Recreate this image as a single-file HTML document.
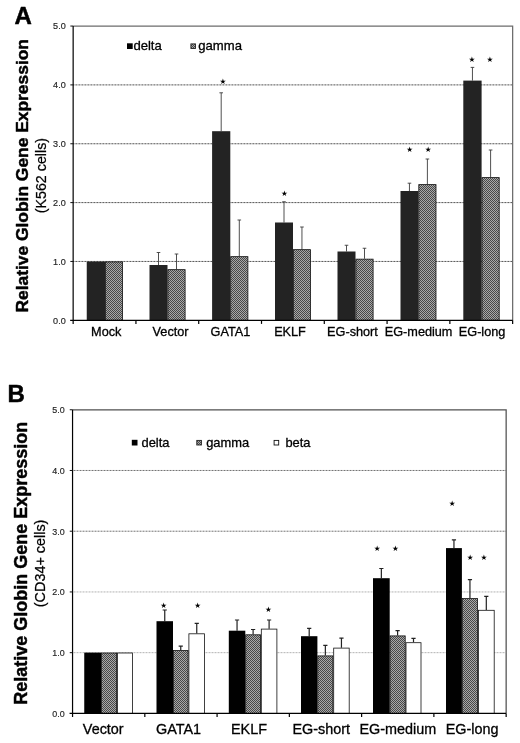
<!DOCTYPE html>
<html lang="en"><head><meta charset="utf-8"><title>Relative Globin Gene Expression</title>
<style>html,body{margin:0;padding:0;background:#fff}body{width:520px;height:743px;overflow:hidden}svg{display:block;will-change:transform;opacity:.999}</style>
</head><body>
<svg width="520" height="743" viewBox="0 0 520 743" font-family="'Liberation Sans', Arial, sans-serif" fill="#000">
<defs><pattern id="hatch" width="2" height="2" patternUnits="userSpaceOnUse"><rect width="2" height="2" fill="#a9a9a9"/><rect x="0" y="0" width="1" height="1" fill="#484848"/><rect x="1" y="1" width="1" height="1" fill="#484848"/></pattern></defs>
<rect width="520" height="743" fill="#fff"/>
<g fill="none" stroke="#6c6c6c" stroke-width="1.25">
<path d="M73.15 26.05 H512.65 V320.3"/>
</g>
<g stroke-width="1" stroke-dasharray="0.9 0.6">
<line x1="73.15" y1="261.45" x2="512.65" y2="261.45" stroke="#383838"/>
<line x1="73.15" y1="202.6" x2="512.65" y2="202.6" stroke="#383838"/>
<line x1="73.15" y1="143.75" x2="512.65" y2="143.75" stroke="#383838"/>
<line x1="73.15" y1="84.9" x2="512.65" y2="84.9" stroke="#383838"/>
</g>
<rect x="86.75" y="261.5" width="18.25" height="58.8" fill="#232323"/>
<rect x="105.4" y="261.9" width="17.2" height="58.4" fill="url(#hatch)" stroke="#111" stroke-width="0.8"/>
<path d="M158.5 265 V252.5 M156.7 252.5 H160.3" stroke="#3c3c3c" stroke-width="0.9" fill="none"/>
<rect x="149.5" y="265" width="18" height="55.3" fill="#232323"/>
<path d="M176.5 269.25 V254 M174.7 254 H178.3" stroke="#3c3c3c" stroke-width="0.9" fill="none"/>
<rect x="167.9" y="269.65" width="17.2" height="50.65" fill="url(#hatch)" stroke="#111" stroke-width="0.8"/>
<path d="M221.2 131.2 V92.8 M219.4 92.8 H223" stroke="#3c3c3c" stroke-width="0.9" fill="none"/>
<rect x="212.1" y="131.2" width="18.2" height="189.1" fill="#232323"/>
<path d="M239.3 256.25 V220 M237.5 220 H241.1" stroke="#3c3c3c" stroke-width="0.9" fill="none"/>
<rect x="230.7" y="256.65" width="17.2" height="63.65" fill="url(#hatch)" stroke="#111" stroke-width="0.8"/>
<path d="M284 222.5 V201.75 M282.2 201.75 H285.8" stroke="#3c3c3c" stroke-width="0.9" fill="none"/>
<rect x="275" y="222.5" width="18" height="97.8" fill="#232323"/>
<path d="M301.95 249.25 V227 M300.15 227 H303.75" stroke="#3c3c3c" stroke-width="0.9" fill="none"/>
<rect x="293.4" y="249.65" width="17.1" height="70.65" fill="url(#hatch)" stroke="#111" stroke-width="0.8"/>
<path d="M346.5 251.5 V245.25 M344.7 245.25 H348.3" stroke="#3c3c3c" stroke-width="0.9" fill="none"/>
<rect x="337.5" y="251.5" width="18" height="68.8" fill="#232323"/>
<path d="M364.5 258.75 V248.25 M362.7 248.25 H366.3" stroke="#3c3c3c" stroke-width="0.9" fill="none"/>
<rect x="355.9" y="259.15" width="17.2" height="61.15" fill="url(#hatch)" stroke="#111" stroke-width="0.8"/>
<path d="M409.45 191 V183.2 M407.65 183.2 H411.25" stroke="#3c3c3c" stroke-width="0.9" fill="none"/>
<rect x="400.5" y="191" width="17.9" height="129.3" fill="#232323"/>
<path d="M427.4 184.2 V159 M425.6 159 H429.2" stroke="#3c3c3c" stroke-width="0.9" fill="none"/>
<rect x="418.8" y="184.6" width="17.2" height="135.7" fill="url(#hatch)" stroke="#111" stroke-width="0.8"/>
<path d="M472.45 80.6 V67.4 M470.65 67.4 H474.25" stroke="#3c3c3c" stroke-width="0.9" fill="none"/>
<rect x="463.3" y="80.6" width="18.3" height="239.7" fill="#232323"/>
<path d="M490.6 177.2 V150 M488.8 150 H492.4" stroke="#3c3c3c" stroke-width="0.9" fill="none"/>
<rect x="482" y="177.6" width="17.2" height="142.7" fill="url(#hatch)" stroke="#111" stroke-width="0.8"/>
<g stroke="#000" stroke-width="1.2" fill="none">
<line x1="73.15" y1="26.05" x2="73.15" y2="323.9"/>
<line x1="70.15" y1="320.3" x2="512.65" y2="320.3"/>
<line x1="135.94" y1="320.3" x2="135.94" y2="323.9"/>
<line x1="198.72" y1="320.3" x2="198.72" y2="323.9"/>
<line x1="261.51" y1="320.3" x2="261.51" y2="323.9"/>
<line x1="324.29" y1="320.3" x2="324.29" y2="323.9"/>
<line x1="387.08" y1="320.3" x2="387.08" y2="323.9"/>
<line x1="449.86" y1="320.3" x2="449.86" y2="323.9"/>
<line x1="512.65" y1="320.3" x2="512.65" y2="323.9"/>
</g>
<g stroke="#111" stroke-width="1" fill="none">
<line x1="70.35" y1="261.45" x2="73.15" y2="261.45"/>
<line x1="70.35" y1="202.6" x2="73.15" y2="202.6"/>
<line x1="70.35" y1="143.75" x2="73.15" y2="143.75"/>
<line x1="70.35" y1="84.9" x2="73.15" y2="84.9"/>
<line x1="70.35" y1="26.05" x2="73.15" y2="26.05"/>
</g>
<g font-size="9.3" text-anchor="end" fill="#262626" stroke="#262626" stroke-width="0.18">
<text x="65.7" y="323.65" textLength="12.6" lengthAdjust="spacingAndGlyphs">0.0</text>
<text x="65.7" y="264.8" textLength="12.6" lengthAdjust="spacingAndGlyphs">1.0</text>
<text x="65.7" y="205.95" textLength="12.6" lengthAdjust="spacingAndGlyphs">2.0</text>
<text x="65.7" y="147.1" textLength="12.6" lengthAdjust="spacingAndGlyphs">3.0</text>
<text x="65.7" y="88.25" textLength="12.6" lengthAdjust="spacingAndGlyphs">4.0</text>
<text x="65.7" y="29.4" textLength="12.6" lengthAdjust="spacingAndGlyphs">5.0</text>
</g>
<g font-size="12.7" text-anchor="middle" stroke="#000" stroke-width="0.3">
<text x="106.25" y="335.5">Mock</text>
<text x="170.6" y="335.5">Vector</text>
<text x="230.4" y="335.5">GATA1</text>
<text x="290" y="335.5">EKLF</text>
<text x="352.5" y="335.5">EG-short</text>
<text x="418.6" y="335.5">EG-medium</text>
<text x="482.1" y="335.5">EG-long</text>
</g>
<g font-family="'DejaVu Sans', 'Liberation Sans', sans-serif" font-size="7.6" text-anchor="middle">
<text x="222.8" y="84.25">★</text>
<text x="284.5" y="195.75">★</text>
<text x="409.7" y="151.65">★</text>
<text x="428.1" y="151.65">★</text>
<text x="471.8" y="62.15">★</text>
<text x="489.9" y="62.15">★</text>
</g>
<g font-size="13.1" stroke-width="0.3">
<rect x="127" y="43.3" width="5.7" height="5.7" fill="#000"/>
<text x="133.4" y="49.6" stroke="#000">delta</text>
<rect x="190.9" y="43.9" width="4.6" height="4.6" fill="url(#hatch)" stroke="#222" stroke-width="0.9"/>
<text x="198.3" y="49.6" stroke="#000">gamma</text>
</g>
<text x="14.5" y="24.2" font-size="24" font-weight="bold" stroke="#000" stroke-width="0.5" stroke-linejoin="round">A</text>
<text transform="translate(28.2 175.8) rotate(-90)" font-size="17.4" font-weight="bold" text-anchor="middle" stroke="#000" stroke-width="0.45" stroke-linejoin="round">Relative Globin Gene Expression</text>
<text transform="translate(45.8 175.6) rotate(-90)" font-size="14.3" text-anchor="middle" stroke="#000" stroke-width="0.25">(K562 cells)</text>
<g fill="none" stroke="#505050" stroke-width="1.25">
<path d="M72.55 409.75 H506.15 V713.4"/>
</g>
<g stroke-width="1" stroke-dasharray="0.9 0.6">
<line x1="72.55" y1="652.67" x2="506.15" y2="652.67" stroke="#a8a8a8"/>
<line x1="72.55" y1="591.94" x2="506.15" y2="591.94" stroke="#a8a8a8"/>
<line x1="72.55" y1="531.21" x2="506.15" y2="531.21" stroke="#606060"/>
<line x1="72.55" y1="470.48" x2="506.15" y2="470.48" stroke="#606060"/>
</g>
<rect x="84.25" y="652.6" width="16.75" height="60.8" fill="#000"/>
<rect x="101.4" y="653" width="15.2" height="60.4" fill="url(#hatch)" stroke="#111" stroke-width="0.8"/>
<rect x="117.4" y="653" width="15.1" height="60.4" fill="#fff" stroke="#111" stroke-width="0.8"/>
<path d="M164.75 621.2 V610 M162.65 610 H166.85" stroke="#222" stroke-width="1.2" fill="none"/>
<rect x="156.5" y="621.2" width="16.5" height="92.2" fill="#000"/>
<path d="M180.75 650 V646.2 M178.65 646.2 H182.85" stroke="#222" stroke-width="1.2" fill="none"/>
<rect x="173.4" y="650.4" width="14.7" height="63" fill="url(#hatch)" stroke="#111" stroke-width="0.8"/>
<path d="M196.75 633.4 V623.4 M194.65 623.4 H198.85" stroke="#222" stroke-width="1.2" fill="none"/>
<rect x="188.9" y="633.8" width="15.7" height="79.6" fill="#fff" stroke="#111" stroke-width="0.8"/>
<path d="M237.05 630.7 V620 M234.95 620 H239.15" stroke="#222" stroke-width="1.2" fill="none"/>
<rect x="228.8" y="630.7" width="16.5" height="82.7" fill="#000"/>
<path d="M253.1 634.4 V629.5 M251 629.5 H255.2" stroke="#222" stroke-width="1.2" fill="none"/>
<rect x="245.7" y="634.8" width="14.8" height="78.6" fill="url(#hatch)" stroke="#111" stroke-width="0.8"/>
<path d="M269.1 628.7 V620 M267 620 H271.2" stroke="#222" stroke-width="1.2" fill="none"/>
<rect x="261.3" y="629.1" width="15.6" height="84.3" fill="#fff" stroke="#111" stroke-width="0.8"/>
<path d="M309.2 636.2 V628.4 M307.1 628.4 H311.3" stroke="#222" stroke-width="1.2" fill="none"/>
<rect x="301" y="636.2" width="16.4" height="77.2" fill="#000"/>
<path d="M325.35 655.5 V645.4 M323.25 645.4 H327.45" stroke="#222" stroke-width="1.2" fill="none"/>
<rect x="317.8" y="655.9" width="15.1" height="57.5" fill="url(#hatch)" stroke="#111" stroke-width="0.8"/>
<path d="M341.45 647.7 V638.2 M339.35 638.2 H343.55" stroke="#222" stroke-width="1.2" fill="none"/>
<rect x="333.7" y="648.1" width="15.5" height="65.3" fill="#fff" stroke="#111" stroke-width="0.8"/>
<path d="M381.35 578.2 V568.5 M379.25 568.5 H383.45" stroke="#222" stroke-width="1.2" fill="none"/>
<rect x="373" y="578.2" width="16.7" height="135.2" fill="#000"/>
<path d="M397.6 635.5 V630.6 M395.5 630.6 H399.7" stroke="#222" stroke-width="1.2" fill="none"/>
<rect x="390" y="635.9" width="15.2" height="77.5" fill="url(#hatch)" stroke="#111" stroke-width="0.8"/>
<path d="M413.5 642.3 V638.4 M411.4 638.4 H415.6" stroke="#222" stroke-width="1.2" fill="none"/>
<rect x="406" y="642.7" width="15" height="70.7" fill="#fff" stroke="#111" stroke-width="0.8"/>
<path d="M453.95 548.1 V539.9 M451.85 539.9 H456.05" stroke="#222" stroke-width="1.2" fill="none"/>
<rect x="446" y="548.1" width="15.9" height="165.3" fill="#000"/>
<path d="M469.95 598.2 V579.6 M467.85 579.6 H472.05" stroke="#222" stroke-width="1.2" fill="none"/>
<rect x="462.3" y="598.6" width="15.3" height="114.8" fill="url(#hatch)" stroke="#111" stroke-width="0.8"/>
<path d="M486.3 609.9 V596.3 M484.2 596.3 H488.4" stroke="#222" stroke-width="1.2" fill="none"/>
<rect x="478.4" y="610.3" width="15.8" height="103.1" fill="#fff" stroke="#111" stroke-width="0.8"/>
<g stroke="#000" stroke-width="1.2" fill="none">
<line x1="72.55" y1="409.75" x2="72.55" y2="717"/>
<line x1="69.55" y1="713.4" x2="506.15" y2="713.4"/>
<line x1="144.82" y1="713.4" x2="144.82" y2="717"/>
<line x1="217.08" y1="713.4" x2="217.08" y2="717"/>
<line x1="289.35" y1="713.4" x2="289.35" y2="717"/>
<line x1="361.62" y1="713.4" x2="361.62" y2="717"/>
<line x1="433.88" y1="713.4" x2="433.88" y2="717"/>
<line x1="506.15" y1="713.4" x2="506.15" y2="717"/>
</g>
<g stroke="#111" stroke-width="1" fill="none">
<line x1="69.75" y1="652.67" x2="72.55" y2="652.67"/>
<line x1="69.75" y1="591.94" x2="72.55" y2="591.94"/>
<line x1="69.75" y1="531.21" x2="72.55" y2="531.21"/>
<line x1="69.75" y1="470.48" x2="72.55" y2="470.48"/>
<line x1="69.75" y1="409.75" x2="72.55" y2="409.75"/>
</g>
<g font-size="9.5" text-anchor="end" fill="#262626" stroke="#262626" stroke-width="0.18">
<text x="64.7" y="716.85" textLength="12.4" lengthAdjust="spacingAndGlyphs">0.0</text>
<text x="64.7" y="656.12" textLength="12.4" lengthAdjust="spacingAndGlyphs">1.0</text>
<text x="64.7" y="595.39" textLength="12.4" lengthAdjust="spacingAndGlyphs">2.0</text>
<text x="64.7" y="534.66" textLength="12.4" lengthAdjust="spacingAndGlyphs">3.0</text>
<text x="64.7" y="473.93" textLength="12.4" lengthAdjust="spacingAndGlyphs">4.0</text>
<text x="64.7" y="413.2" textLength="12.4" lengthAdjust="spacingAndGlyphs">5.0</text>
</g>
<g font-size="14.4" text-anchor="middle" stroke="#000" stroke-width="0.3">
<text x="103.25" y="734">Vector</text>
<text x="178.5" y="734">GATA1</text>
<text x="249" y="734">EKLF</text>
<text x="321.25" y="734">EG-short</text>
<text x="397.9" y="734">EG-medium</text>
<text x="472.1" y="734">EG-long</text>
</g>
<g font-family="'DejaVu Sans', 'Liberation Sans', sans-serif" font-size="7.6" text-anchor="middle">
<text x="163.6" y="607.65">★</text>
<text x="197.6" y="607.65">★</text>
<text x="268.4" y="612.35">★</text>
<text x="377.2" y="550.95">★</text>
<text x="395.5" y="550.95">★</text>
<text x="452.1" y="506.05">★</text>
<text x="470.1" y="559.75">★</text>
<text x="483.9" y="559.75">★</text>
</g>
<g font-size="12.9" stroke-width="0.3">
<rect x="131.8" y="439.8" width="5.7" height="5.7" fill="#000"/>
<text x="141.5" y="447" stroke="#000">delta</text>
<rect x="196.8" y="440.4" width="4.6" height="4.6" fill="url(#hatch)" stroke="#222" stroke-width="0.9"/>
<text x="206.2" y="447" stroke="#000">gamma</text>
<rect x="274.1" y="440.4" width="4.6" height="4.6" fill="#fff" stroke="#111" stroke-width="0.9"/>
<text x="285.4" y="447" stroke="#000">beta</text>
</g>
<text x="7.4" y="402.0" font-size="24" font-weight="bold" stroke="#000" stroke-width="0.5" stroke-linejoin="round">B</text>
<text transform="translate(27.2 563.3) rotate(-90)" font-size="18" font-weight="bold" text-anchor="middle" stroke="#000" stroke-width="0.45" stroke-linejoin="round">Relative Globin Gene Expression</text>
<text transform="translate(44.9 563.4) rotate(-90)" font-size="14.4" text-anchor="middle" stroke="#000" stroke-width="0.25">(CD34+ cells)</text>
</svg></body></html>
